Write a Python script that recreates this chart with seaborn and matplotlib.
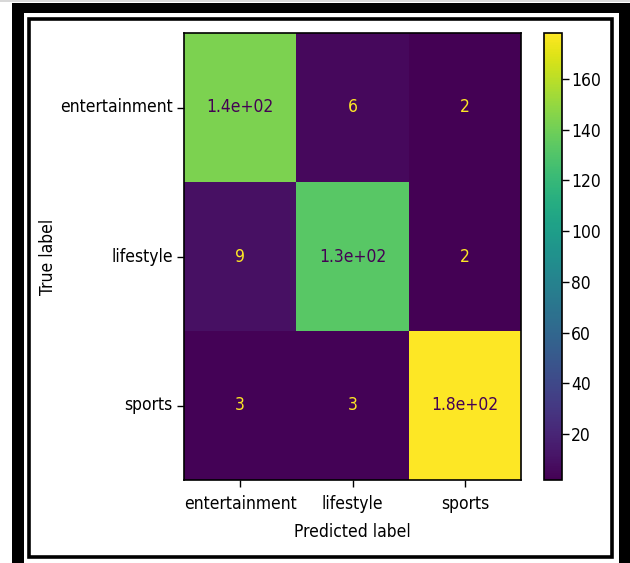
import matplotlib
matplotlib.use("Agg")
import matplotlib.pyplot as plt
from matplotlib.patches import Rectangle
import numpy as np
import pandas as pd
import seaborn as sns

# Confusion matrix of a three-class news classifier
classes = ["entertainment", "lifestyle", "sports"]
row_entertainment = [143, 6, 2]
row_lifestyle = [9, 132, 2]
row_sports = [3, 3, 178]
cbar_ticks = [20, 40, 60, 80, 100, 120, 140, 160]

plt.rcParams["font.family"] = ["DejaVu Sans"]
plt.rcParams["font.stretch"] = "condensed"

cm = pd.DataFrame([row_entertainment, row_lifestyle, row_sports],
                  index=classes, columns=classes)

W, H = 630, 563
fig = plt.figure(figsize=(W / 100, H / 100), dpi=100)


def px_rect(x0, y0, x1, y1):
    """Figure-fraction rectangle from pixel edges measured from the top-left."""
    return [x0 / W, 1 - y1 / H, (x1 - x0) / W, (y1 - y0) / H]


# Double black frame around the figure
fig.patches.append(Rectangle((0, 1 - 2 / H), 1, 2 / H,
                             transform=fig.transFigure, facecolor="#d8d8d8",
                             edgecolor="none", zorder=-4))
fig.patches.append(Rectangle((12 / W, 0), (W - 12) / W, (H - 3) / H,
                             transform=fig.transFigure, facecolor="black",
                             edgecolor="none", zorder=-3))
fig.patches.append(Rectangle((24 / W, 0), (619 - 24) / W, (H - 13) / H,
                             transform=fig.transFigure, facecolor="white",
                             edgecolor="none", zorder=-2))
fig.patches.append(Rectangle((28.7 / W, 1 - 557 / H), (612.2 - 28.7) / W,
                             (557 - 18.5) / H, transform=fig.transFigure,
                             facecolor="none", edgecolor="black",
                             linewidth=2.6, zorder=-1))

ax = fig.add_axes(px_rect(184, 33, 521, 480))
cax = fig.add_axes(px_rect(544, 33, 562, 480))

sns.heatmap(cm, ax=ax, cbar_ax=cax, cmap="viridis", annot=True, fmt=".2g",
            annot_kws={"fontsize": 12.5}, square=False, linewidths=0)

# Dark text on bright cells, bright text on dark cells
cmap = plt.get_cmap("viridis")
vals = cm.values.ravel()
thresh = (vals.max() + vals.min()) / 2
for txt, v in zip(ax.texts, vals):
    txt.set_color(cmap(0.0) if v > thresh else cmap(1.0))

for sp in ax.spines.values():
    sp.set_visible(True)
    sp.set_color("black")
    sp.set_linewidth(1.2)

ax.set_xticklabels(classes, rotation=0, fontsize=12.5)
ax.set_yticklabels(classes, rotation=0, fontsize=12.5, va="center")
ax.tick_params(axis="x", length=5, width=1, color="black", pad=6)
ax.tick_params(axis="y", length=5, width=1, color="black", pad=3)
ax.set_xlabel("Predicted label", fontsize=12.5, labelpad=7)
ax.set_ylabel("True label", fontsize=12.5, labelpad=2)

cb = ax.collections[0].colorbar
cb.set_ticks(cbar_ticks)
cb.outline.set_visible(True)
cb.outline.set_linewidth(1.2)
cb.outline.set_edgecolor("black")
cax.tick_params(labelsize=12.5, length=5, width=1, color="black", pad=1.5)

fig.savefig("out.png", dpi=100)
